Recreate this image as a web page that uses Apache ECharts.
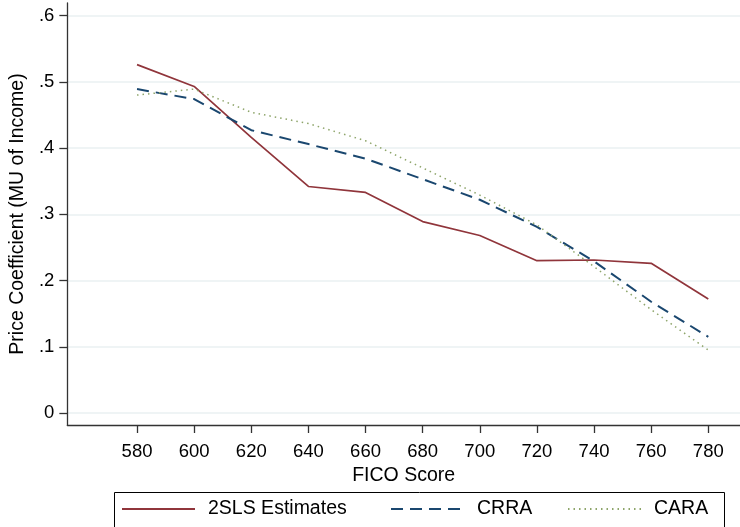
<!DOCTYPE html>
<html>
<head>
<meta charset="utf-8">
<script src="https://cdn.jsdelivr.net/npm/echarts@6/dist/echarts.min.js"></script>
<style>
html,body{margin:0;padding:0;background:#fff;}
#chart{width:740px;height:527px;}
</style>
</head>
<body>
<div id="chart"></div>
<script>
const fico = [580, 600, 620, 640, 660, 680, 700, 720, 740, 760, 780];
const tsls = [0.526, 0.493, 0.416, 0.342, 0.333, 0.289, 0.268, 0.230, 0.231, 0.226, 0.172];
const crra = [0.489, 0.474, 0.427, 0.406, 0.384, 0.353, 0.322, 0.281, 0.229, 0.168, 0.115];
const cara = [0.480, 0.489, 0.454, 0.437, 0.411, 0.370, 0.329, 0.284, 0.221, 0.156, 0.095];
const xTicks = [580, 600, 620, 640, 660, 680, 700, 720, 740, 760, 780];
const yTicks = [0, 0.1, 0.2, 0.3, 0.4, 0.5, 0.6];
const yTickLabels = ['0', '.1', '.2', '.3', '.4', '.5', '.6'];
const seriesNames = ['2SLS Estimates', 'CRRA', 'CARA'];

const font = 'Liberation Sans, Arial, sans-serif';
const chart = echarts.init(document.getElementById('chart'));
const pair = (ys) => fico.map((x, i) => [x, ys[i]]);

const legendLefts = [121, 390, 567];
const legendBase = {
  top: 499, orient: 'horizontal', padding: 0,
  itemWidth: 73, itemHeight: 14,
  itemStyle: { color: 'rgba(0,0,0,0)', borderWidth: 0, opacity: 0 },
  textStyle: { fontFamily: font, fontSize: 19.5, color: '#000', padding: [0, 0, 0, 8] }
};

chart.setOption({
  animation: false,
  backgroundColor: '#fff',
  grid: { left: 67, top: 3, right: 0, bottom: 102, containLabel: false },
  graphic: [{
    type: 'rect', left: 112, top: 490,
    shape: { x: 0.5, y: 0.5, width: 610, height: 35 },
    style: { fill: 'none', stroke: '#000', lineWidth: 1 }
  }],
  legend: seriesNames.map((n, i) => Object.assign({}, legendBase, { left: legendLefts[i], data: [n] })),
  xAxis: {
    type: 'value',
    min: 555.6, max: 791.1,
    name: 'FICO Score',
    nameLocation: 'middle',
    nameGap: 32,
    nameTextStyle: { fontFamily: font, fontSize: 19.5, color: '#000' },
    axisLine: { show: true, onZero: false, lineStyle: { color: '#333', width: 1.3 } },
    axisTick: { show: true, length: 8, lineStyle: { color: '#333', width: 1.3 }, customValues: xTicks },
    axisLabel: { fontFamily: font, fontSize: 18.5, color: '#000', margin: 17, customValues: xTicks },
    splitLine: { show: false }
  },
  yAxis: {
    type: 'value',
    min: -0.0181, max: 0.619,
    name: 'Price Coefficient (MU of Income)',
    nameLocation: 'middle',
    nameGap: 39,
    nameTextStyle: { fontFamily: font, fontSize: 19.5, color: '#000' },
    axisLine: { show: true, onZero: false, lineStyle: { color: '#333', width: 1.3 } },
    axisTick: { show: true, length: 8, lineStyle: { color: '#333', width: 1.3 }, customValues: yTicks },
    axisLabel: {
      fontFamily: font, fontSize: 18.5, color: '#000', margin: 13,
      customValues: yTicks,
      formatter: (v) => {
        const i = yTicks.findIndex(t => Math.abs(t - v) < 1e-6);
        return i >= 0 ? yTickLabels[i] : '';
      }
    },
    splitLine: { show: true, lineStyle: { color: '#eaf0f2', width: 1.5 } }
  },
  series: [
    {
      name: seriesNames[0], type: 'line', data: pair(tsls),
      symbol: 'none', color: '#90353b',
      lineStyle: { color: '#90353b', width: 1.7 }
    },
    {
      name: seriesNames[1], type: 'line', data: pair(crra),
      symbol: 'none', color: '#1a476f',
      lineStyle: { color: '#1a476f', width: 2, type: [12, 7] }
    },
    {
      name: seriesNames[2], type: 'line', data: pair(cara),
      symbol: 'none', color: '#8ea56a',
      lineStyle: { color: '#8ea56a', width: 1.5, type: [1.5, 4] }
    }
  ]
});
</script>
</body>
</html>
